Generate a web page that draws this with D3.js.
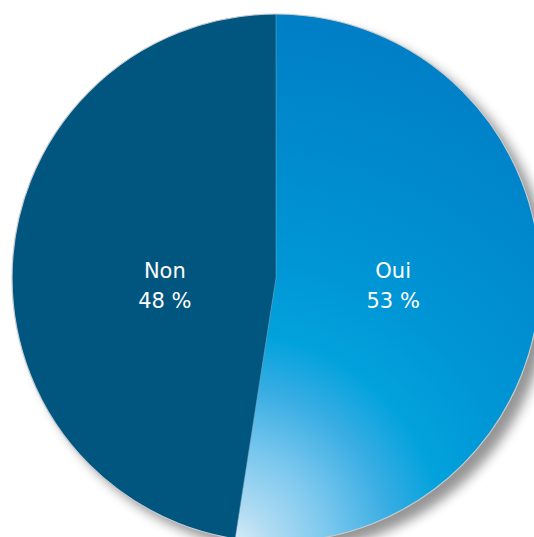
<!DOCTYPE html>
<html>
<head>
<meta charset="utf-8">
<script src="https://cdn.jsdelivr.net/npm/d3@7"></script>
<style>
  html, body { margin: 0; padding: 0; background: #fff; overflow: hidden; }
  svg { display: block; }
</style>
</head>
<body>
<svg id="chart" width="534" height="537"></svg>
<script>
// Survey answers (percent)
const categories = ["Oui", "Non"];
const values = [53, 48];
const valueLabels = ["53 %", "48 %"];

const width = 534, height = 537;
const cx = 276, cy = 278, radius = 264;

const svg = d3.select("#chart");
const defs = svg.append("defs");

// Soft drop shadow toward the lower right
const shadow = defs.append("filter")
  .attr("id", "shadow")
  .attr("x", "-20%").attr("y", "-20%")
  .attr("width", "140%").attr("height", "140%");
shadow.append("feGaussianBlur").attr("in", "SourceAlpha").attr("stdDeviation", 6).attr("result", "blur");
shadow.append("feOffset").attr("in", "blur").attr("dx", 10).attr("dy", 9).attr("result", "off");
shadow.append("feComponentTransfer").attr("in", "off").attr("result", "shade")
  .append("feFuncA").attr("type", "linear").attr("slope", 0.42);

// Radial glow for the "Oui" slice, brightest near the bottom
// (coordinates are relative to the pie centre)
const grad = defs.append("radialGradient")
  .attr("id", "ouiFill")
  .attr("gradientUnits", "userSpaceOnUse")
  .attr("cx", -45).attr("cy", 272).attr("r", 540)
  .attr("fx", -45).attr("fy", 272);
[
  [0.00, "#e0f2fa"],
  [0.07, "#b4ddf3"],
  [0.18, "#7cc8ee"],
  [0.30, "#38ade3"],
  [0.40, "#02a2dd"],
  [0.54, "#0096d5"],
  [0.80, "#0088cc"],
  [1.00, "#007ec6"]
].forEach(([o, c]) => grad.append("stop").attr("offset", o).attr("stop-color", c));

const colors = d3.scaleOrdinal()
  .domain(categories)
  .range(["url(#ouiFill)", "#00567f"]);

const pie = d3.pie().sort(null).value(d => d.value);
const data = categories.map((c, i) => ({ cat: c, value: values[i], label: valueLabels[i] }));
const arcs = pie(data);

const arc = d3.arc().innerRadius(0).outerRadius(radius);
const labelArc = d3.arc().innerRadius(radius * 0.43).outerRadius(radius * 0.43);

const g = svg.append("g").attr("transform", `translate(${cx},${cy})`);

// shadow disc
g.append("circle")
  .attr("r", radius)
  .attr("fill", "#000")
  .attr("filter", "url(#shadow)");

g.selectAll("path.slice")
  .data(arcs)
  .join("path")
  .attr("class", "slice")
  .attr("d", arc)
  .attr("fill", d => colors(d.data.cat));

// thin divider lines between slices
g.selectAll("line.divider")
  .data(arcs)
  .join("line")
  .attr("class", "divider")
  .attr("x1", 0).attr("y1", 0)
  .attr("x2", d => radius * Math.sin(d.startAngle))
  .attr("y2", d => -radius * Math.cos(d.startAngle))
  .attr("stroke", "#7fb6d6")
  .attr("stroke-opacity", 0.6)
  .attr("stroke-width", 0.8);

// light rim
g.append("circle")
  .attr("r", radius)
  .attr("fill", "none")
  .attr("stroke", "#c8ccd0")
  .attr("stroke-width", 1.2);

// labels
const labels = g.selectAll("text.label")
  .data(arcs)
  .join("text")
  .attr("class", "label")
  .attr("text-anchor", "middle")
  .attr("fill", "#ffffff")
  .style("font-family", "'DejaVu Sans', sans-serif")
  .style("font-size", "21px")
  .attr("transform", d => `translate(${labelArc.centroid(d)[0] + (d.data.cat === "Oui" ? 4 : 2)},0)`);

labels.append("tspan").attr("x", 0).attr("y", 0).text(d => d.data.cat);
labels.append("tspan").attr("x", 0).attr("y", 30).text(d => d.data.label);
</script>
</body>
</html>
